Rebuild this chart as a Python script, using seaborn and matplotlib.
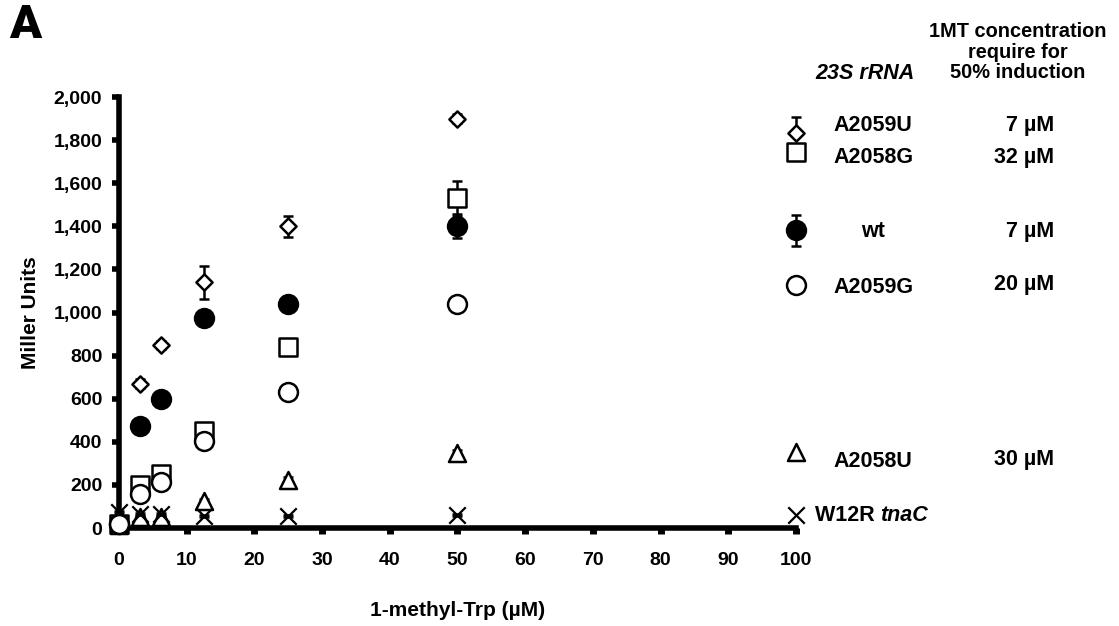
import numpy as np
import pandas as pd
import matplotlib
matplotlib.use("Agg")
import matplotlib.pyplot as plt
import seaborn as sns
from matplotlib.ticker import FuncFormatter

# ---------------- data ----------------
conc = [0, 3.125, 6.25, 12.5, 25, 50]

a2059u = [20, 670, 850, 1140, 1400, 1900]
a2059u_err = [10, 20, 20, 75, 50, 20]

a2058g = [20, 200, 250, 450, 840, 1530]
a2058g_err = [10, 15, 15, 20, 20, 80]

wt = [20, 475, 600, 975, 1040, 1400]
wt_err = [10, 20, 20, 20, 35, 55]

a2059g = [20, 160, 215, 405, 630, 1040]
a2059g_err = [5, 10, 10, 15, 15, 15]

a2058u = [15, 50, 50, 125, 225, 350]
a2058u_err = [5, 5, 5, 10, 10, 10]

w12r = [75, 65, 65, 55, 55, 60]
w12r_err = [5, 5, 5, 5, 5, 5]

series_names = ["A2059U", "A2058G", "wt", "A2059G", "A2058U", "W12R tnaC"]
series_values = [a2059u, a2058g, wt, a2059g, a2058u, w12r]
series_errors = [a2059u_err, a2058g_err, wt_err, a2059g_err, a2058u_err, w12r_err]
half_induction = ["7 µM", "32 µM", "7 µM", "20 µM", "30 µM", ""]

x_ticks = [0, 10, 20, 30, 40, 50, 60, 70, 80, 90, 100]
y_ticks = [0, 200, 400, 600, 800, 1000, 1200, 1400, 1600, 1800, 2000]

# ---------------- styles ----------------
styles = {
    "A2059U":    dict(marker="D", s=68,  fc="white", z=6),
    "A2058G":    dict(marker="s", s=165, fc="white", z=4),
    "wt":        dict(marker="o", s=185, fc="black", z=5),
    "A2059G":    dict(marker="o", s=185, fc="white", z=9),
    "A2058U":    dict(marker="^", s=150, fc="white", z=7),
    "W12R tnaC": dict(marker="x", s=140, fc="black", z=8),
}
draw_order = ["A2058G", "wt", "A2059U", "A2058U", "W12R tnaC", "A2059G"]

rows = []
for name, vals, errs in zip(series_names, series_values, series_errors):
    for c, v, e in zip(conc, vals, errs):
        rows.append(dict(series=name, conc=c, units=v, err=e))
df = pd.DataFrame(rows)

sns.set_theme(style="white")
plt.rcParams["font.family"] = ["Liberation Sans", "DejaVu Sans"]
plt.rcParams["font.weight"] = "bold"
plt.rcParams["text.color"] = "black"
plt.rcParams["axes.labelcolor"] = "black"
plt.rcParams["xtick.color"] = "black"
plt.rcParams["ytick.color"] = "black"

fig = plt.figure(figsize=(11.19, 6.26), dpi=100)
ax = fig.add_axes([0.1063, 0.1565, 0.605, 0.6885])

for name in draw_order:
    sub = df[df.series == name]
    st = styles[name]
    ax.errorbar(sub.conc, sub.units, yerr=sub.err, fmt="none", ecolor="black",
                elinewidth=1.8, capsize=3.5, capthick=1.8, zorder=st["z"] - 0.5,
                clip_on=False)
    if st["marker"] == "x":
        sns.scatterplot(data=sub, x="conc", y="units", marker="x", s=st["s"],
                        color="black", linewidth=1.6, ax=ax, zorder=st["z"],
                        clip_on=False, legend=False)
    else:
        sns.scatterplot(data=sub, x="conc", y="units", marker=st["marker"], s=st["s"],
                        facecolor=st["fc"], edgecolor="black", linewidth=1.8, ax=ax,
                        zorder=st["z"], clip_on=False, legend=False)

ax.set_xlim(0, 100)
ax.set_ylim(0, 2000)
ax.set_xticks(x_ticks)
ax.set_yticks(y_ticks)
ax.yaxis.set_major_formatter(FuncFormatter(lambda v, p: f"{v:,.0f}"))
for s in ["top", "right"]:
    ax.spines[s].set_visible(False)
for s in ["left", "bottom"]:
    ax.spines[s].set_color("black")
    ax.spines[s].set_linewidth(4)
    ax.spines[s].set_zorder(3)
ax.tick_params(axis="y", direction="out", length=5, width=4, color="black",
               labelsize=14, pad=7, left=True, labelcolor="black")
ax.tick_params(axis="x", direction="out", length=4, width=5, color="black",
               labelsize=14, pad=13, bottom=True, labelcolor="black")
for lab in ax.get_xticklabels() + ax.get_yticklabels():
    lab.set_fontweight("bold")
ax.set_xlabel("1-methyl-Trp (µM)", fontsize=15, fontweight="bold", labelpad=23,
              color="black")
ax.set_ylabel("Miller Units", fontsize=15, fontweight="bold", labelpad=10,
              color="black")

# ---------------- legend block (axes fraction) ----------------
key_y = {"A2058G": 0.872, "A2059U": 0.9165, "wt": 0.691, "A2059G": 0.564,
         "A2058U": 0.176, "W12R tnaC": 0.030}
key_err = {"A2059U": (0.0, 0.037), "wt": (0.036, 0.036)}
tr = ax.transAxes
for name in ["A2058G", "A2059U", "wt", "A2059G", "A2058U", "W12R tnaC"]:
    st = styles[name]
    y = key_y[name]
    if name in key_err:
        lo, hi = key_err[name]
        ax.errorbar([1.0], [y], yerr=[[lo], [hi]], fmt="none", ecolor="black",
                    elinewidth=1.8, capsize=3.5, capthick=1.8, transform=tr,
                    clip_on=False, zorder=10)
    if st["marker"] == "x":
        ax.scatter([1.0], [y], marker="x", s=st["s"], color="black", linewidth=1.6,
                   transform=tr, clip_on=False, zorder=11)
    else:
        ax.scatter([1.0], [y], marker=st["marker"], s=st["s"], facecolor=st["fc"],
                   edgecolor="black", linewidth=1.8, transform=tr, clip_on=False,
                   zorder=11)

fs = 15.5
label_pos = {"A2059U": (1.055, 0.935, "left"), "A2058G": (1.055, 0.860, "left"),
             "wt": (1.114, 0.689, "center"), "A2059G": (1.055, 0.557, "left"),
             "A2058U": (1.055, 0.155, "left")}
for name, (x, y, ha) in label_pos.items():
    ax.text(x, y, name, transform=tr, ha=ha, va="center", fontsize=fs,
            fontweight="bold")
t_w12r = ax.text(1.028, 0.028, "W12R ", transform=tr, ha="left",
                 va="center", fontsize=fs, fontweight="bold")
ax.annotate("tnaC", xy=(1.0, 0.5), xycoords=t_w12r, ha="left", va="center",
            fontsize=fs, fontweight="bold", style="italic")

value_y = [0.935, 0.860, 0.689, 0.566, 0.160]
for v, y in zip(half_induction[:5], value_y):
    ax.text(1.381, y, v, transform=tr, ha="right", va="center", fontsize=fs,
            fontweight="bold")

ax.text(1.102, 1.055, "23S rRNA", transform=tr, ha="center", va="center",
        fontsize=fs, fontweight="bold", style="italic")
ax.text(1.328, 1.104, "1MT concentration\nrequire for\n50% induction",
        transform=tr, ha="center", va="center", fontsize=14.4, fontweight="bold",
        linespacing=1.1)

fig.text(0.008, 0.96, "A", fontsize=34, fontweight="black", ha="left",
         va="center", family=["Roboto", "Liberation Sans", "DejaVu Sans"])

fig.savefig("out.png", dpi=100)
